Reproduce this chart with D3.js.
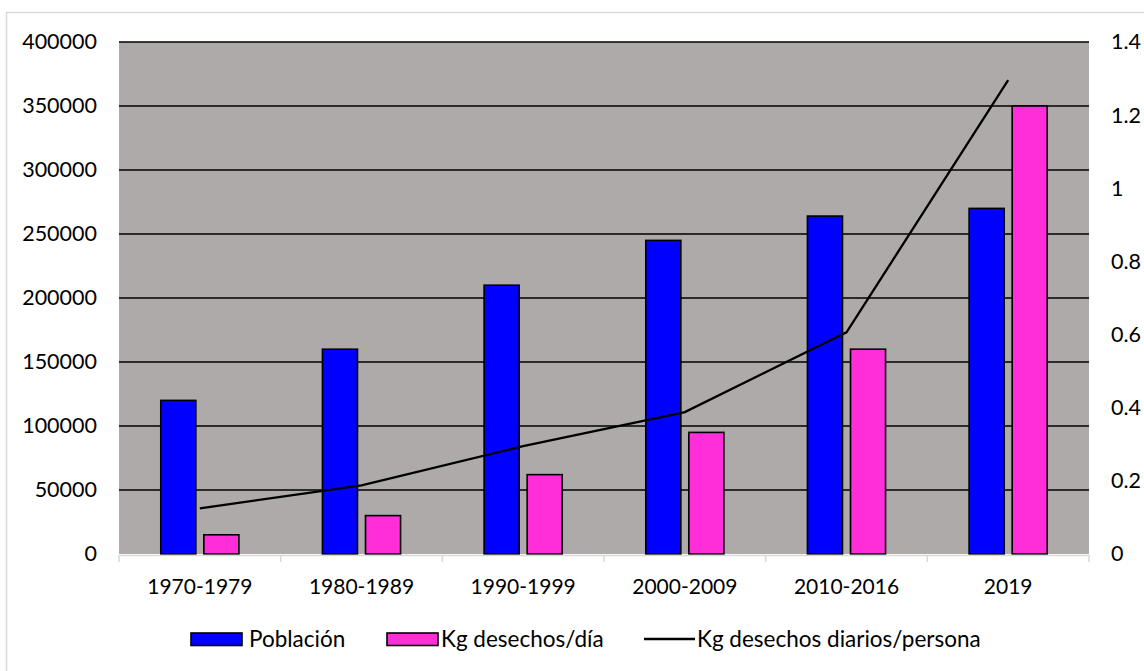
<!DOCTYPE html>
<html>
<head>
<meta charset="utf-8">
<script src="https://cdn.jsdelivr.net/npm/d3@7"></script>
<style>
  html, body { margin: 0; padding: 0; background: #ffffff; }
  svg text { font-family: Lato, "Open Sans", sans-serif; fill: #000; }
</style>
</head>
<body>
<svg id="chart" width="1144" height="671"></svg>
<script>
// Periods on the horizontal axis
const categories = ["1970-1979", "1980-1989", "1990-1999", "2000-2009", "2010-2016", "2019"];
// Population (left axis)
const poblacion = [120000, 160000, 210000, 245000, 264000, 270000];
// Kg of waste per day (left axis)
const kgDia = [15000, 30000, 62000, 95000, 160000, 350000];
// Kg of waste per person per day (right axis)
const kgPersona = [0.125, 0.1875, 0.295, 0.388, 0.606, 1.296];
// Tick values
const leftTicks = [0, 50000, 100000, 150000, 200000, 250000, 300000, 350000, 400000];
const rightTicks = [0, 0.2, 0.4, 0.6, 0.8, 1, 1.2, 1.4];
// Series names for the legend
const seriesNames = ["Población", "Kg desechos/día", "Kg desechos diarios/persona"];

const svg = d3.select("#chart");
const plot = { left: 119, right: 1089, top: 42, bottom: 554 };

// Chart frame (runs off the right and bottom edges)
svg.append("rect")
  .attr("x", 6.5).attr("y", 12.5)
  .attr("width", 1142).attr("height", 664)
  .attr("fill", "#fff").attr("stroke", "#d9d9d9").attr("stroke-width", 1.5);

const x0 = d3.scaleBand().domain(categories).range([plot.left, plot.right]).padding(0);
const x1 = d3.scaleBand().domain(["p", "k"]).range([0, x0.bandwidth()])
  .paddingInner(0.186).paddingOuter(0.97);
const yL = d3.scaleLinear().domain([0, 400000]).range([plot.bottom, plot.top]);
const yR = d3.scaleLinear().domain([0, 1.4]).range([plot.bottom, plot.top]);

// Plot area background
svg.append("rect")
  .attr("x", plot.left).attr("y", plot.top)
  .attr("width", plot.right - plot.left).attr("height", plot.bottom - plot.top)
  .attr("fill", "#aeaaa9");

// Horizontal gridlines
svg.append("g")
  .selectAll("line").data(leftTicks.filter(d => d > 0)).join("line")
  .attr("x1", plot.left).attr("x2", plot.right)
  .attr("y1", d => yL(d)).attr("y2", d => yL(d))
  .attr("stroke", "#000").attr("stroke-width", 1.6);

// Left axis labels
const leftAxis = d3.axisLeft(yL).tickValues(leftTicks).tickSize(0).tickPadding(22).tickFormat(d3.format("d"));
const gl = svg.append("g").attr("transform", `translate(${plot.left},0)`).call(leftAxis);
gl.select(".domain").remove();
gl.selectAll("text").style("font-size", "21.5px");

// Right axis labels
const rightAxis = d3.axisRight(yR).tickValues(rightTicks).tickSize(0).tickPadding(22).tickFormat(d => String(d));
const gr = svg.append("g").attr("transform", `translate(${plot.right},0)`).call(rightAxis);
gr.select(".domain").remove();
gr.selectAll("text").style("font-size", "21.5px");

// Bars
const groups = svg.append("g").selectAll("g").data(categories).join("g")
  .attr("transform", d => `translate(${x0(d)},0)`);
groups.append("rect")
  .attr("x", x1("p")).attr("width", x1.bandwidth())
  .attr("y", (d, i) => yL(poblacion[i]))
  .attr("height", (d, i) => yL(0) - yL(poblacion[i]))
  .attr("fill", "#0000ff").attr("stroke", "#000").attr("stroke-width", 1.6);
groups.append("rect")
  .attr("x", x1("k")).attr("width", x1.bandwidth())
  .attr("y", (d, i) => yL(kgDia[i]))
  .attr("height", (d, i) => yL(0) - yL(kgDia[i]))
  .attr("fill", "#ff2ed9").attr("stroke", "#000").attr("stroke-width", 1.6);

// Category axis: light baseline with tick marks between categories
const bottomAxis = d3.axisBottom(x0).tickSize(0).tickPadding(24);
const gb = svg.append("g").attr("transform", `translate(0,${plot.bottom + 1})`).call(bottomAxis);
gb.select(".domain").attr("stroke", "#d9d9d9").attr("stroke-width", 1.5);
gb.selectAll("text").style("font-size", "21px");
const bounds = categories.map(c => x0(c)).concat([plot.right]);
gb.selectAll("line.sep").data(bounds).join("line").attr("class", "sep")
  .attr("x1", d => d).attr("x2", d => d).attr("y1", 0).attr("y2", 7)
  .attr("stroke", "#d9d9d9").attr("stroke-width", 1.5);

// Per-person line
const line = d3.line()
  .x((d, i) => x0(categories[i]) + x0.bandwidth() / 2)
  .y(d => yR(d));
svg.append("path").datum(kgPersona)
  .attr("d", line).attr("fill", "none")
  .attr("stroke", "#000").attr("stroke-width", 2.3);

// Legend
const legend = svg.append("g").attr("transform", "translate(0,639)");
const legendItems = [
  { name: seriesNames[0], type: "bar", color: "#0000ff", x: 191, tx: 249 },
  { name: seriesNames[1], type: "bar", color: "#ff2ed9", x: 387, tx: 441 },
  { name: seriesNames[2], type: "line", color: "#000", x: 644, tx: 697 }
];
legendItems.forEach(item => {
  if (item.type === "bar") {
    legend.append("rect").attr("x", item.x).attr("y", -6).attr("width", 51).attr("height", 12.5)
      .attr("fill", item.color).attr("stroke", "#000").attr("stroke-width", 1.6);
  } else {
    legend.append("line").attr("x1", item.x).attr("x2", item.x + 51).attr("y1", 0).attr("y2", 0)
      .attr("stroke", "#000").attr("stroke-width", 2.3);
  }
  legend.append("text").attr("x", item.tx).attr("y", 0).attr("dy", "0.35em")
    .style("font-size", "22.5px").text(item.name);
});
</script>
</body>
</html>
